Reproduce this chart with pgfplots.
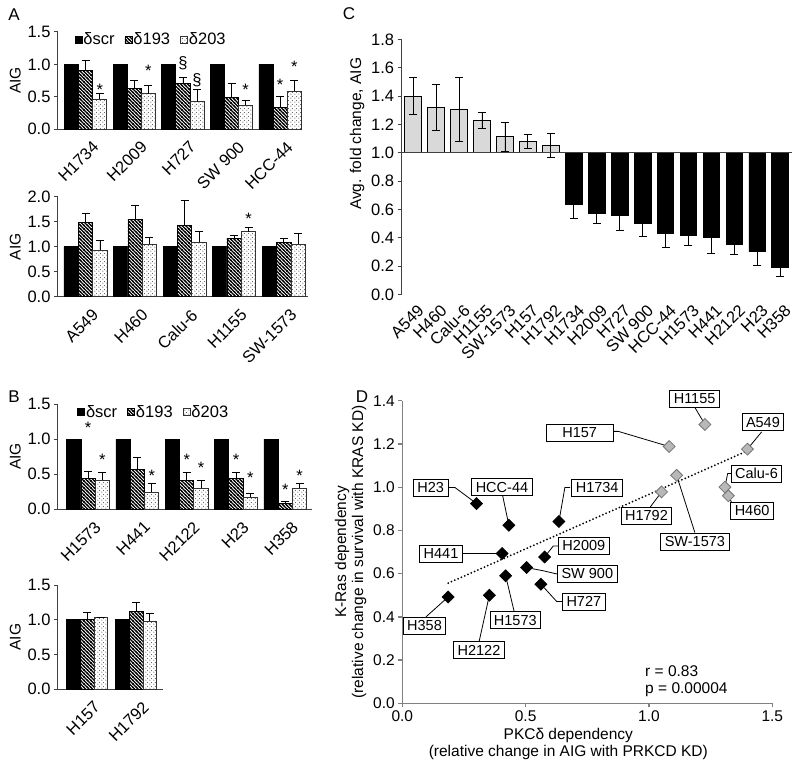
\documentclass[border=0pt]{standalone}
\usepackage{fontspec}
\setmainfont{Liberation Sans}
\usepackage{pgfplots}
\usepackage{pgfplotstable}
\pgfplotsset{compat=1.18}
\usetikzlibrary{patterns,patterns.meta}

\newcommand\fs{\fontsize{14.5}{16}\selectfont}
\newcommand\ft{\fontsize{16.5}{18}\selectfont}
\newcommand\fd{\fontsize{15.5}{17}\selectfont}

% thick diagonal stripes (delta193)
\tikzdeclarepattern{
  name=hatch,
  type=uncolored,
  bottom left={(-0.5pt,-0.5pt)},
  top right={(4pt,4pt)},
  tile size={(3.5pt,3.5pt)},
  code={
    \draw[line width=1.3pt] (-0.5pt,4pt) -- (4pt,-0.5pt);
    \draw[line width=1.3pt] (-0.5pt,0.5pt) -- (0.5pt,-0.5pt);
    \draw[line width=1.3pt] (3pt,4pt) -- (4pt,3pt);
  }
}
% sparse dots (delta203)
\tikzdeclarepattern{
  name=sdots,
  type=uncolored,
  bottom left={(0pt,0pt)},
  top right={(3.6pt,3.6pt)},
  tile size={(3.6pt,3.6pt)},
  code={
    \fill (0.9pt,0.9pt) circle (0.6pt);
    \fill (2.7pt,2.7pt) circle (0.6pt);
  }
}

\pgfplotsset{
  /pgf/number format/assume math mode=true,
  barpanel/.style={
    scale only axis, ybar=0pt, bar width=0.29, ymin=0,
    axis x line*=bottom, axis y line*=left,
    axis line style={-, black!75, line width=1pt},
    xtick={0,...,4}, xtick style={draw=none},
    ytick style={black!75, line width=1pt}, tick align=outside, major tick length=4pt,
    tick label style={font=\ft},
    yticklabel style={/pgf/number format/.cd, fixed, fixed zerofill, precision=1},
    xticklabel style={rotate=45, anchor=north east, yshift=-8pt, inner sep=1pt},
    ylabel={AIG}, ylabel style={font=\fd},
    clip=false, enlargelimits=false,
    legend style={draw=none, fill=none, font=\ft, legend columns=3,
      nodes={inner xsep=1pt, inner ysep=1pt},
      /tikz/column 2/.style={column sep=9pt},
      /tikz/column 4/.style={column sep=9pt}},
    legend image code/.code={\draw[#1] (0pt,-3.5pt) rectangle (7pt,3.5pt);},
  },
  scr/.style={fill=black, draw=black, line width=0.8pt},
  s193/.style={fill=white, draw=black, line width=0.8pt, postaction={pattern=hatch, pattern color=black}},
  s203/.style={fill=white, draw=black!80, line width=0.8pt, postaction={pattern=sdots, pattern color=black!65}},
  ebar/.style={error bars/.cd, y dir=plus, y explicit,
    error bar style={black, line width=0.8pt},
    error mark options={rotate=90, mark size=4pt, line width=0.8pt, black}},
}
\tikzset{
  astr/.style={anchor=base, yshift=-5pt, inner sep=0pt, font=\ft},
  sect/.style={anchor=center, inner sep=0pt, font=\ft},
  lbl/.style={draw=black, fill=white, line width=0.8pt, font=\fs, inner xsep=4pt, inner ysep=2pt, minimum height=17pt},
  ldr/.style={black, line width=0.8pt},
}

\pgfplotstableread{
x y e
0 1.40 0.13
1 1.32 0.16
2 1.308 0.225
3 1.228 0.055
4 1.113 0.10
5 1.082 0.05
6 1.052 0.085
}\Cgray
\pgfplotstableread{
x y e
7 0.635 0.10
8 0.576 0.075
9 0.56 0.11
10 0.504 0.097
11 0.43 0.095
12 0.419 0.07
13 0.402 0.115
14 0.353 0.073
15 0.303 0.10
16 0.188 0.06
}\Cblack
\pgfplotstableread{
x y
1.227 1.29
1.399 1.176
1.082 1.188
1.112 1.055
1.051 0.978
1.308 1.00
1.322 0.96
}\Dgray
\pgfplotstableread{
x y
0.301 0.924
0.432 0.824
0.635 0.841
0.405 0.693
0.577 0.677
0.504 0.628
0.419 0.59
0.562 0.551
0.186 0.492
0.353 0.50
}\Dblack

\begin{document}
\begin{tikzpicture}
\path[use as bounding box] (0pt,0pt) rectangle (800pt,-768pt);

\node[font=\fontsize{17}{19}\selectfont] at (14pt,-15pt) {A};
\node[font=\fontsize{17}{19}\selectfont] at (14pt,-397pt) {B};
\node[font=\fontsize{17}{19}\selectfont] at (349pt,-14pt) {C};
\node[font=\fontsize{17}{19}\selectfont] at (362pt,-397pt) {D};

% ---- A top
\begin{axis}[barpanel, at={(58pt,-129pt)}, anchor=south west,
  width=244pt, height=97pt, xmin=-0.57, xmax=4.45, ymax=1.5,
  ytick={0,0.5,1,1.5},
  xticklabels={H1734,H2009,H727,SW 900,HCC-44},
  legend style={at={(0.055,0.92)}, anchor=west}]
\addplot[scr] coordinates {(0,1) (1,1) (2,1) (3,1) (4,1)};
\addplot[s193, ebar] coordinates {(0,0.908) +- (0,0.16) (1,0.628) +- (0,0.117) (2,0.704) +- (0,0.092) (3,0.49) +- (0,0.21) (4,0.327) +- (0,0.173)};
\addplot[s203, ebar] coordinates {(0,0.464) +- (0,0.086) (1,0.546) +- (0,0.134) (2,0.42) +- (0,0.19) (3,0.367) +- (0,0.083) (4,0.58) +- (0,0.17)};
\legend{δscr,δ193,δ203}
\node[astr] at (axis cs:0.29,0.588) {*};
\node[astr] at (axis cs:1.29,0.886) {*};
\node[sect] at (axis cs:2,1.016) {§};
\node[sect] at (axis cs:2.29,0.758) {§};
\node[astr] at (axis cs:3.29,0.603) {*};
\node[astr] at (axis cs:4,0.665) {*};
\node[astr] at (axis cs:4.29,0.948) {*};
\end{axis}

% ---- A bottom
\begin{axis}[barpanel, at={(58pt,-296.7pt)}, anchor=south west,
  width=250pt, height=100pt, xmin=-0.556, xmax=4.49, ymax=2,
  ytick={0,0.5,1,1.5,2},
  xticklabels={A549,H460,Calu-6,H1155,SW-1573}]
\addplot[scr] coordinates {(0,1) (1,1) (2,1) (3,1) (4,1)};
\addplot[s193, ebar] coordinates {(0,1.49) +- (0,0.18) (1,1.55) +- (0,0.28) (2,1.43) +- (0,0.49) (3,1.17) +- (0,0.06) (4,1.09) +- (0,0.07)};
\addplot[s203, ebar] coordinates {(0,0.93) +- (0,0.20) (1,1.05) +- (0,0.14) (2,1.09) +- (0,0.21) (3,1.30) +- (0,0.08) (4,1.05) +- (0,0.22)};
\node[astr] at (axis cs:3.29,1.55) {*};
\end{axis}

% ---- B top
\begin{axis}[barpanel, at={(58pt,-509pt)}, anchor=south west,
  width=254pt, height=105pt, xmin=-0.61, xmax=4.54, ymax=1.5,
  ytick={0,0.5,1,1.5},
  xticklabels={H1573,H441,H2122,H23,H358},
  legend style={at={(0.063,0.924)}, anchor=west}]
\addplot[scr] coordinates {(0,1) (1,1) (2,1) (3,1) (4,1)};
\addplot[s193, ebar] coordinates {(0,0.438) +- (0,0.105) (1,0.567) +- (0,0.166) (2,0.414) +- (0,0.106) (3,0.438) +- (0,0.082) (4,0.081) +- (0,0.033)};
\addplot[s203, ebar] coordinates {(0,0.414) +- (0,0.11) (1,0.238) +- (0,0.129) (2,0.30) +- (0,0.114) (3,0.167) +- (0,0.057) (4,0.295) +- (0,0.072)};
\legend{δscr,δ193,δ203}
\node[astr] at (axis cs:0,1.152) {*};
\node[astr] at (axis cs:0.29,0.686) {*};
\node[astr] at (axis cs:1.29,0.471) {*};
\node[astr] at (axis cs:2,0.686) {*};
\node[astr] at (axis cs:2.29,0.576) {*};
\node[astr] at (axis cs:3,0.686) {*};
\node[astr] at (axis cs:3.29,0.438) {*};
\node[astr] at (axis cs:4,0.262) {*};
\node[astr] at (axis cs:4.29,0.462) {*};
\end{axis}

% ---- B bottom
\begin{axis}[barpanel, at={(58pt,-689pt)}, anchor=south west,
  width=105pt, height=104pt, xmin=-0.6, xmax=1.55, ymax=1.5,
  bar width=0.28, xtick={0,1},
  ytick={0,0.5,1,1.5},
  xticklabels={H157,H1792}]
\addplot[scr] coordinates {(0,1) (1,1)};
\addplot[s193, ebar] coordinates {(0,1.0) +- (0,0.105) (1,1.12) +- (0,0.13)};
\addplot[s203, ebar] coordinates {(0,1.04) +- (0,0) (1,0.98) +- (0,0.116)};
\end{axis}

% ---- C
\begin{axis}[at={(401.7pt,-294.5pt)}, anchor=south west, scale only axis,
  width=390pt, height=255pt, xmin=-0.5, xmax=16.5, ymin=-1, ymax=0.8,
  clip=false, axis x line*=bottom, axis y line*=left,
  axis line style={-, black!75, line width=1pt},
  x axis line style={draw=none},
  xtick={0,...,16}, xtick style={draw=none},
  xticklabels={A549,H460,Calu-6,H1155,SW-1573,H157,H1792,H1734,H2009,H727,SW 900,HCC-44,H1573,H441,H2122,H23,H358},
  xticklabel style={rotate=45, anchor=north east, yshift=-5pt, inner sep=1pt},
  ytick={-1,-0.8,-0.6,-0.4,-0.2,0,0.2,0.4,0.6,0.8},
  yticklabels={0.0,0.2,0.4,0.6,0.8,1.0,1.2,1.4,1.6,1.8},
  ytick style={black!75, line width=1pt}, tick align=outside, major tick length=4pt,
  tick label style={font=\ft},
  ylabel={Avg. fold change, AIG}, ylabel style={font=\fd, at={(ticklabel cs:0.63)}}]
\addplot[ybar, bar width=0.727, fill=black!15, draw=black, line width=0.8pt,
  error bars/.cd, y dir=both, y explicit,
  error bar style={black, line width=0.8pt},
  error mark options={rotate=90, mark size=4pt, line width=0.8pt, black}]
  table[x=x, y expr=\thisrow{y}-1, y error=e] {\Cgray};
\addplot[ybar, bar width=0.727, fill=black, draw=black, line width=0.8pt,
  error bars/.cd, y dir=both, y explicit,
  error bar style={black, line width=0.8pt},
  error mark options={rotate=90, mark size=4pt, line width=0.8pt, black}]
  table[x=x, y expr=\thisrow{y}-1, y error=e] {\Cblack};
\draw[black!75, line width=1pt] (axis cs:-0.5,0) -- (axis cs:16.5,0);
\end{axis}

% ---- D
\begin{axis}[at={(402.3pt,-703.3pt)}, anchor=south west, scale only axis,
  width=370pt, height=302.6pt, xmin=0, xmax=1.5, ymin=0, ymax=1.4,
  clip=false, axis x line*=bottom, axis y line*=left,
  axis line style={-, black!50, line width=1.3pt},
  tick style={black!50, line width=1.3pt}, tick align=outside, major tick length=4pt,
  xtick={0,0.5,1,1.5}, ytick={0,0.2,0.4,0.6,0.8,1.0,1.2,1.4},
  tick label style={font=\fd, /pgf/number format/.cd, fixed, fixed zerofill, precision=1},
  xlabel={PKCδ dependency\\(relative change in AIG with PRKCD KD)},
  xlabel style={align=center, font=\fd, xshift=-19pt},
  ylabel={K-Ras dependency\\(relative change in survival with KRAS KD)},
  ylabel style={align=center, font=\fd}]
% leader lines
\draw[ldr] (axis cs:1.186,1.369) -- (axis cs:1.227,1.29);
\draw[ldr] (axis cs:1.457,1.256) -- (axis cs:1.399,1.176);
\draw[ldr] (axis cs:0.855,1.258) -- (axis cs:0.876,1.258) -- (axis cs:1.082,1.188);
\draw[ldr] (axis cs:1.346,1.063) -- (axis cs:1.319,1.063) -- (axis cs:1.308,1.0);
\draw[ldr] (axis cs:1.335,0.929) -- (axis cs:1.322,0.96);
\draw[ldr] (axis cs:1.004,0.906) -- (axis cs:1.051,0.978);
\draw[ldr] (axis cs:1.186,0.79) -- (axis cs:1.112,1.055);
\draw[ldr] (axis cs:0.186,0.998) -- (axis cs:0.214,0.998) -- (axis cs:0.301,0.924);
\draw[ldr] (axis cs:0.407,0.96) -- (axis cs:0.432,0.824);
\draw[ldr] (axis cs:0.68,0.998) -- (axis cs:0.659,0.998) -- (axis cs:0.635,0.841);
\draw[ldr] (axis cs:0.243,0.693) -- (axis cs:0.405,0.693);
\draw[ldr] (axis cs:0.639,0.728) -- (axis cs:0.612,0.728) -- (axis cs:0.577,0.677);
\draw[ldr] (axis cs:0.632,0.597) -- (axis cs:0.572,0.613) -- (axis cs:0.504,0.628);
\draw[ldr] (axis cs:0.653,0.471) -- (axis cs:0.626,0.471) -- (axis cs:0.562,0.551);
\draw[ldr] (axis cs:0.096,0.40) -- (axis cs:0.186,0.492);
\draw[ldr] (axis cs:0.453,0.427) -- (axis cs:0.419,0.59);
\draw[ldr] (axis cs:0.312,0.289) -- (axis cs:0.353,0.50);
% trend line
\addplot[black, line width=2pt, line cap=round, dash pattern=on 0pt off 3.6pt] coordinates {(0.186,0.556) (1.399,1.168)};
\addplot[only marks, mark=square*, mark size=4.2pt, mark options={rotate=45, fill=black!28, draw=black!55, line width=0.8pt}] table[x=x,y=y] {\Dgray};
\addplot[only marks, mark=square*, mark size=4.2pt, mark options={rotate=45, fill=black, draw=black, line width=0.8pt}] table[x=x,y=y] {\Dblack};
% labels
\node[lbl] at (axis cs:1.185,1.409) {H1155};
\node[lbl] at (axis cs:1.462,1.301) {A549};
\node[lbl, minimum width=67pt] at (axis cs:0.719,1.252) {H157};
\node[lbl] at (axis cs:1.436,1.063) {Calu-6};
\node[lbl] at (axis cs:1.418,0.890) {H460};
\node[lbl] at (axis cs:0.99,0.867) {H1792};
\node[lbl] at (axis cs:1.186,0.747) {SW-1573};
\node[lbl] at (axis cs:0.115,0.998) {H23};
\node[lbl] at (axis cs:0.404,1.0) {HCC-44};
\node[lbl] at (axis cs:0.79,0.998) {H1734};
\node[lbl] at (axis cs:0.157,0.693) {H441};
\node[lbl] at (axis cs:0.736,0.73) {H2009};
\node[lbl] at (axis cs:0.75,0.60) {SW 900};
\node[lbl] at (axis cs:0.736,0.471) {H727};
\node[lbl] at (axis cs:0.09,0.36) {H358};
\node[lbl] at (axis cs:0.458,0.384) {H1573};
\node[lbl] at (axis cs:0.311,0.245) {H2122};
\node[anchor=west, font=\fd, inner sep=0pt] at (axis cs:0.984,0.15) {r = 0.83};
\node[anchor=west, font=\fd, inner sep=0pt] at (axis cs:0.984,0.065) {p = 0.00004};
\end{axis}
\end{tikzpicture}
\end{document}
